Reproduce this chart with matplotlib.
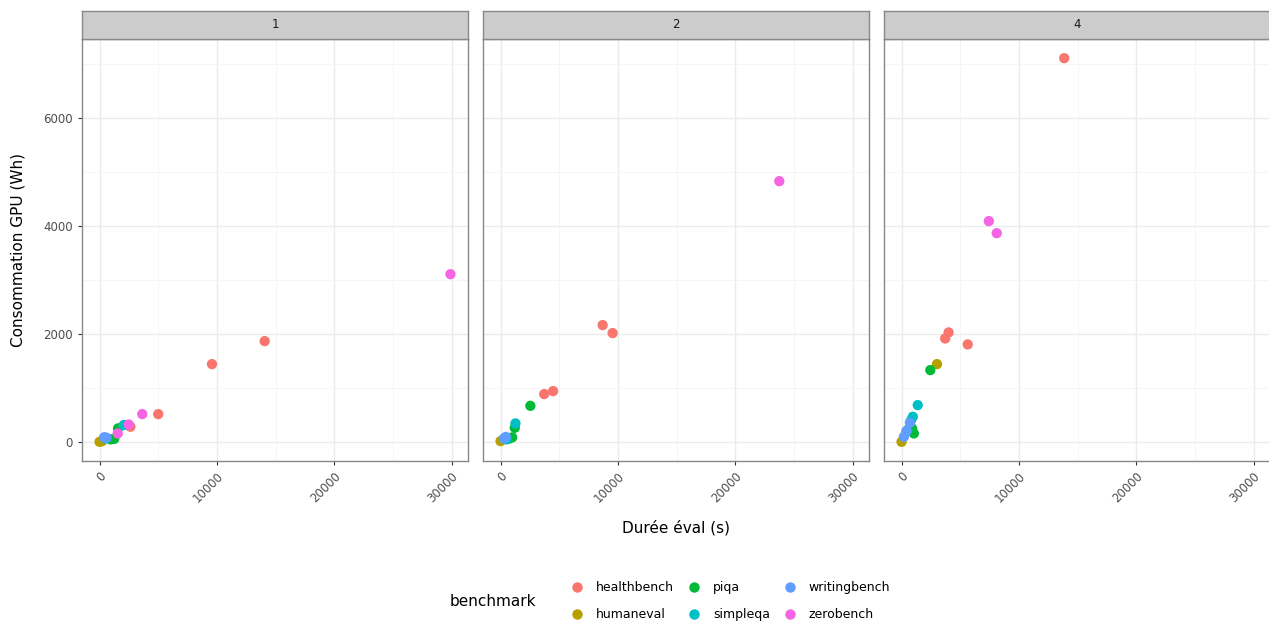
import matplotlib

matplotlib.use('Agg')
import matplotlib.pyplot as plt
from matplotlib.lines import Line2D
import numpy as np

# data (gpu count facet, benchmark, duration s, energy Wh)
benchmark = ['healthbench', 'healthbench', 'healthbench', 'healthbench',
             'zerobench', 'zerobench', 'zerobench', 'zerobench',
             'piqa', 'piqa', 'piqa', 'simpleqa', 'simpleqa',
             'humaneval', 'humaneval', 'writingbench', 'writingbench',
             'zerobench', 'healthbench', 'healthbench', 'healthbench', 'healthbench',
             'piqa', 'piqa', 'piqa', 'piqa', 'simpleqa', 'simpleqa',
             'writingbench', 'writingbench', 'humaneval',
             'healthbench', 'healthbench', 'healthbench', 'healthbench',
             'zerobench', 'zerobench', 'humaneval', 'humaneval',
             'piqa', 'piqa', 'piqa', 'simpleqa', 'simpleqa', 'simpleqa', 'simpleqa',
             'writingbench', 'writingbench', 'writingbench']
gpu_count = [1] * 17 + [2] * 14 + [4] * 18
duration_s = [14070, 9580, 5000, 2630,
              29900, 3640, 2480, 1550,
              1580, 930, 1250, 2060, 510,
              0, 200, 600, 400,
              23750, 8700, 9550, 3720, 4480,
              2540, 1210, 990, 700, 1270, 500,
              280, 450, 0,
              13860, 4010, 3720, 5640,
              7440, 8110, 3020, 0,
              2450, 1050, 900, 1380, 960, 490, 800,
              710, 200, 400]
energy_wh = [1870, 1444, 518, 284,
             3110, 518, 326, 160,
             254, 50, 60, 315, 68,
             5, 15, 80, 90,
             4833, 2167, 2019, 889, 944,
             672, 265, 87, 60, 346, 50,
             68, 95, 18,
             7111, 2031, 1920, 1809,
             4093, 3870, 1444, 5,
             1333, 160, 250, 685, 469, 222, 400,
             358, 98, 200]

bench_order = ['healthbench', 'humaneval', 'piqa', 'simpleqa', 'writingbench', 'zerobench']
bench_colors = ['#F8766D', '#B79F00', '#00BA38', '#00BFC4', '#619CFF', '#F564E3']
facets = [1, 2, 4]

gpu_count = np.array(gpu_count)
benchmark = np.array(benchmark)
duration_s = np.array(duration_s, dtype=float)
energy_wh = np.array(energy_wh, dtype=float)

# ggplot style 5% expansion
xr = duration_s.max() - duration_s.min()
xlim = (duration_s.min() - 0.05 * xr, duration_s.max() + 0.05 * xr)
yr = energy_wh.max() - energy_wh.min()
ylim = (energy_wh.min() - 0.05 * yr, energy_wh.max() + 0.05 * yr)

W, H = 1269, 623
fig = plt.figure(figsize=(W / 100, H / 100), dpi=100)

panel_left = [82, 483, 884]
panel_w = 386
top, bottom, strip_h = 39, 461, 28
border = '#888888'

for i, g in enumerate(facets):
    l = panel_left[i]
    ax = fig.add_axes([l / W, (H - bottom) / H, panel_w / W, (bottom - top) / H])
    ax.set_facecolor('white')
    ax.set_xlim(xlim)
    ax.set_ylim(ylim)
    ax.set_xticks([0, 10000, 20000, 30000])
    ax.set_xticks([5000, 15000, 25000], minor=True)
    ax.set_yticks([0, 2000, 4000, 6000])
    ax.set_yticks([1000, 3000, 5000, 7000], minor=True)
    ax.grid(which='major', color='#ebebeb', linewidth=1.0)
    ax.grid(which='minor', color='#f4f4f4', linewidth=0.6)
    ax.set_axisbelow(True)
    for s in ax.spines.values():
        s.set_color(border)
        s.set_linewidth(1.0)
    ax.tick_params(which='minor', length=0)
    ax.tick_params(which='major', color='#333333', length=3, labelsize=8.5, labelcolor='#4d4d4d')
    ax.set_xticklabels(['0', '10000', '20000', '30000'], rotation=45, ha='right',
                       rotation_mode='anchor')
    if i > 0:
        ax.tick_params(axis='y', left=False, labelleft=False)

    sel = gpu_count == g
    for b, c in zip(bench_order, bench_colors):
        m = sel & (benchmark == b)
        ax.scatter(duration_s[m], energy_wh[m], s=55, color=c, edgecolors='none', zorder=3)

    # facet strip
    sx = fig.add_axes([l / W, (H - top) / H, panel_w / W, strip_h / H])
    sx.set_facecolor('#cccccc')
    sx.set_xticks([])
    sx.set_yticks([])
    for s in sx.spines.values():
        s.set_color(border)
        s.set_linewidth(1.0)
    sx.text(0.5, 0.5, str(g), ha='center', va='center', fontsize=8.5, color='#1a1a1a',
            transform=sx.transAxes)

fig.text(18 / W, 1 - 250 / H, 'Consommation GPU (Wh)', rotation=90, ha='center', va='center',
         fontsize=11, color='black')
fig.text(676 / W, 1 - 528 / H, 'Durée éval (s)', ha='center', va='center', fontsize=11,
         color='black')

handles = [Line2D([], [], marker='o', linestyle='', markersize=7.5, color=c,
                  markeredgewidth=0) for c in bench_colors]
fig.legend(handles, bench_order, ncol=3, loc='center', bbox_to_anchor=(730 / W, 1 - 601 / H),
           frameon=False, fontsize=9, handletextpad=0.9, columnspacing=1.0,
           labelspacing=1.1, handlelength=1.2)
fig.text(493 / W, 1 - 601 / H, 'benchmark', ha='center', va='center', fontsize=11)

fig.savefig('out.png', dpi=100)
